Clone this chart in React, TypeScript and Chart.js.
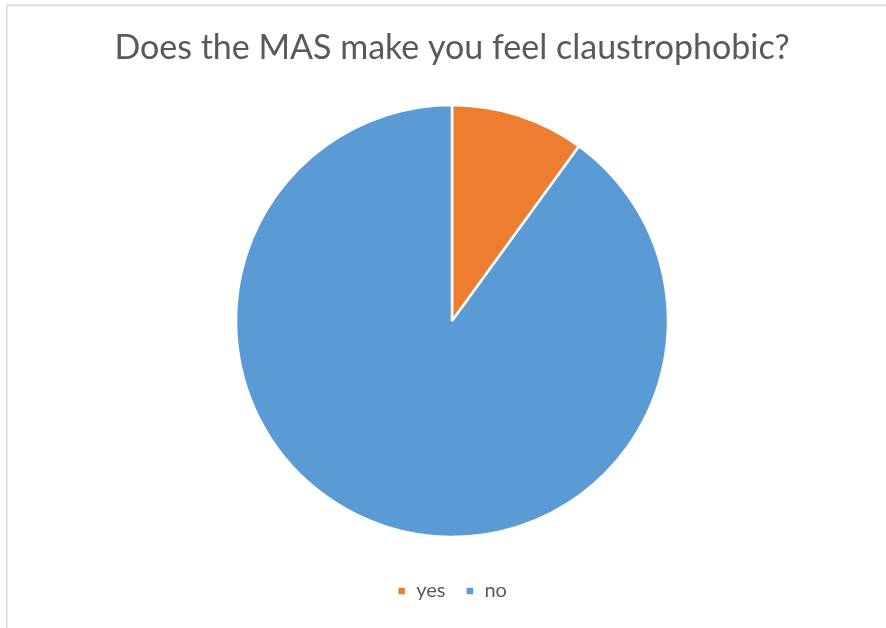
import React, { useEffect, useRef } from "react";
import { Chart, registerables } from "chart.js";

Chart.register(...registerables);

const TITLE = "Does the MAS make you feel claustrophobic?";
const categories = ["yes", "no"];
const shares = [10, 90];
const colors = ["#ED7D31", "#5B9BD5"];

const framePlugin = {
  id: "frame",
  beforeDraw(chart: any) {
    const ctx = chart.ctx;
    ctx.save();
    ctx.fillStyle = "#ffffff";
    ctx.fillRect(0, 0, chart.width, chart.height);
    ctx.strokeStyle = "#d9d9d9";
    ctx.lineWidth = 1.5;
    ctx.beginPath();
    ctx.moveTo(6.75, chart.height);
    ctx.lineTo(6.75, 5.25);
    ctx.lineTo(chart.width, 5.25);
    ctx.stroke();
    ctx.restore();
  },
};

export default function App() {
  const ref = useRef<HTMLCanvasElement>(null);
  useEffect(() => {
    document.body.style.margin = "0";
    const chart = new Chart(ref.current!, {
      type: "pie",
      data: {
        labels: categories,
        datasets: [
          {
            data: shares,
            backgroundColor: colors,
            borderColor: "#ffffff",
            borderWidth: 2.5,
          },
        ],
      },
      options: {
        animation: false,
        responsive: false,
        radius: 216,
        layout: { padding: { left: 18, right: 0, top: 0, bottom: 17 } },
        plugins: {
          title: {
            display: true,
            text: TITLE,
            color: "#595959",
            font: { family: "Lato", size: 34, weight: "normal", lineHeight: 1.2 },
            padding: { top: 28, bottom: 12 },
          },
          legend: {
            display: true,
            position: "bottom",
            labels: {
              boxWidth: 9,
              boxHeight: 9,
              padding: 20,
              color: "#595959",
              font: { family: "Lato", size: 20 },
            },
          },
          tooltip: { enabled: false },
        },
      } as any,
      plugins: [framePlugin],
    });
    return () => chart.destroy();
  }, []);
  return <canvas ref={ref} width={886} height={628} style={{ display: "block" }} />;
}
